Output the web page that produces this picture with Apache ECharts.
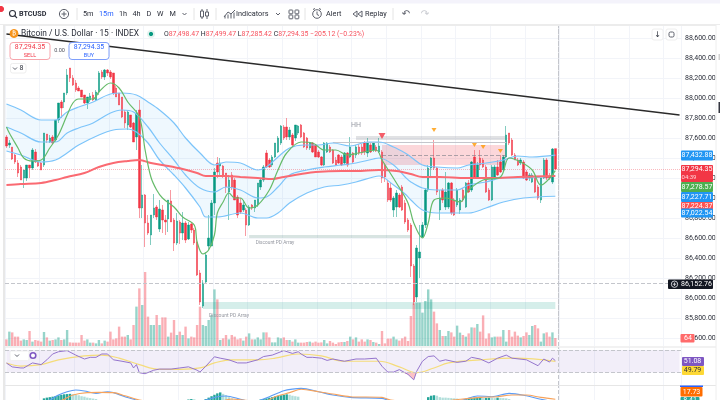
<![CDATA[<!DOCTYPE html>
<html><head><meta charset="utf-8">
<style>html,body{margin:0;padding:0;background:#fff}#c{width:720px;height:400px}</style>
<script src="https://cdn.jsdelivr.net/npm/echarts@6/dist/echarts.min.js"></script>
</head><body><div id="c"></div>
<script>
const barSlots = 234;
const categories = Array.from({length: barSlots}, (_, i) => String(i));

const openPrices = [87615,87535,87515,87435,87355,87315,87205,87205,87335,87305,
87465,87375,87355,87335,87645,87565,87615,87585,87785,87965,
87965,88055,88305,88205,88155,88105,88085,88035,87955,87985,
88035,87985,88065,88265,88215,88285,88265,88255,88105,88055,
88015,87865,87735,87835,87755,87615,87885,86905,87035,86755,
86635,86835,86915,86695,86885,86785,86795,86975,86785,86555,
86765,86655,86755,86595,86745,86685,86565,86255,85925,86165,
86525,86525,86955,87355,87325,87325,87255,87065,87235,87185,
87015,86955,86885,86885,86735,86935,86905,86935,87115,87185,87455,
87385,87335,87415,87465,87555,87715,87715,87615,87635,87605,
87655,87735,87655,87605,87505,87555,87535,87465,87415,87335,
87465,87515,87485,87385,87435,87415,87355,87455,87415,87455,
87435,87515,87515,87555,87455,87535,87485,87515,87465,87465,
87335,87155,87105,86885,86915,87035,87115,86955,86785,86735,
86325,86015,86405,86615,86735,87085,87305,87405,87305,86885,
87085,86915,86915,87155,86985,86935,86885,87085,86915,87155,
87085,87415,87215,87405,87385,87315,87085,86985,87215,87315,
87365,87285,87415,87655,87585,87435,87385,87355,87365,87265,
87205,87165,87205,87115,86985,87205,87385,87215,87165,87498.47];

const closePrices = [87525,87555,87395,87365,87255,87185,87285,87335,87305,87485,
87365,87325,87285,87655,87585,87605,87555,87785,87955,87905,
88055,88235,88205,88135,88085,88075,88015,87955,88015,88025,
87985,88065,88255,88215,88285,88255,88215,88055,88015,87935,
87815,87755,87865,87715,87565,87855,86905,87035,86755,86655,
86835,86905,86815,86895,86785,86765,86985,86765,86555,86775,
86655,86755,86585,86735,86685,86555,86235,85965,86155,86435,
86605,86955,87265,87265,87355,87235,87115,87185,87115,86985,
86835,86865,86935,86735,86915,86905,86985,87155,87185,87315,87315,
87315,87415,87555,87605,87725,87605,87615,87685,87535,87735,
87725,87615,87515,87505,87555,87465,87415,87415,87335,87555,
87555,87465,87355,87335,87355,87335,87455,87335,87515,87365,
87515,87455,87455,87465,87555,87465,87555,87475,87525,87205,
87215,86985,86985,87005,87055,86915,86885,86765,86685,86325,
85965,86505,86465,86735,87085,87305,87405,87305,87065,87005,
86985,87065,87155,86855,86835,87085,86985,86985,87155,87065,
87365,87215,87335,87335,87315,87065,86985,87315,87315,87235,
87265,87415,87635,87555,87435,87385,87335,87385,87205,87185,
87235,87235,87065,87005,87205,87385,87205,87205,87495,87294.35];

const lowPrices = [87505,87505,87385,87345,87215,87185,87105,87175,87205,87285,
87355,87315,87285,87315,87555,87555,87545,87565,87755,87805,
87905,88035,88165,88125,88065,88075,88015,87945,87895,87965,
87975,87975,88035,88195,88185,88225,88195,88035,88015,87935,
87805,87705,87685,87705,87565,87485,86805,86805,86515,86635,
86535,86805,86785,86665,86655,86635,86665,86765,86475,86535,
86545,86585,86555,86585,86655,86535,86225,85935,85905,86155,
86485,86525,86835,87205,87235,87205,87055,86785,87085,86985,
86805,86845,86865,86625,86725,86885,86865,86915,87085,87165,87305,
87305,87315,87405,87455,87535,87585,87585,87585,87515,87575,
87635,87605,87505,87485,87485,87455,87415,87405,87325,87325,
87455,87455,87345,87325,87345,87325,87335,87315,87405,87355,
87405,87435,87435,87435,87415,87455,87465,87465,87455,87155,
87165,86965,86965,86815,86815,86905,86875,86745,86665,86215,
85935,85965,86205,86605,86705,87065,87205,87285,87035,86785,
86955,86885,86895,86835,86825,86915,86845,86965,86905,87055,
87065,87205,87205,87285,87305,87055,86975,86975,87205,87225,
87255,87265,87405,87535,87425,87385,87325,87335,87195,87175,
87175,87155,87055,86985,86955,87195,87185,87185,87145,87285.42];

const highPrices = [87635,87585,87515,87445,87385,87335,87285,87335,87335,87505,
87495,87385,87365,87655,87645,87635,87635,87785,87955,87985,
88055,88295,88305,88235,88185,88125,88085,88035,88015,88055,
88065,88085,88275,88285,88295,88295,88285,88255,88125,88055,
88015,87885,87885,87835,87765,87885,87985,87335,87045,86835,
86835,87045,86935,86985,86935,86835,86985,87085,86805,86855,
86785,86865,86775,86765,86765,86705,86585,86285,86185,86465,
86835,86985,87305,87415,87405,87335,87255,87235,87265,87205,
87035,87005,86985,86905,86935,86945,86985,87155,87205,87335,87485,
87405,87435,87555,87625,87735,87735,87805,87715,87655,87735,
87735,87745,87665,87615,87565,87565,87545,87485,87425,87565,
87565,87535,87495,87415,87445,87435,87465,87465,87615,87465,
87535,87545,87545,87575,87605,87555,87565,87535,87605,87485,
87355,87185,87155,87025,87085,87055,87135,86985,86805,86755,
86345,86535,86735,86765,87105,87335,87415,87585,87315,87085,
87105,87265,87165,87165,87005,87105,87005,87105,87165,87185,
87375,87485,87365,87485,87405,87335,87105,87335,87335,87385,
87435,87435,87725,87655,87605,87455,87405,87405,87385,87285,
87255,87255,87225,87135,87205,87405,87405,87255,87505,87499.47];

const volumes = [53,115,109,75,75,43,53,48,120,35,48,43,35,112,69,43,48,53,69,48,
53,128,29,27,27,27,88,43,53,27,27,21,48,21,43,35,115,53,61,155,
75,75,88,53,168,315,461,328,592,235,168,168,248,168,229,229,75,107,208,88,
115,88,155,61,75,69,168,315,168,160,208,248,453,373,48,61,88,53,88,75,
53,61,43,75,101,53,53,69,53,109,109,69,29,29,69,61,69,48,48,35,
53,27,27,27,32,35,27,35,27,29,48,21,40,27,16,29,32,32,40,75,
53,69,35,53,35,53,48,32,27,16,120,21,59,59,75,53,43,61,75,40,
240,341,347,347,267,360,453,373,275,181,128,80,80,120,109,75,163,107,88,75,
101,149,147,176,115,245,59,101,69,75,75,75,128,35,128,75,115,83,69,80,
109,88,160,168,141,35,101,109,75,109,64];

const bandUpper = [[0,87945],[5,87885],[12,87785],[17,87785],[21,87865],[25,87915],[30,87965],[36,88045],[40,88055],[45,88035],[49,87965],[53,87885],[58,87755],[62,87605],[67,87455],[72,87335],[76,87365],[81,87355],[87,87285],[90,87315],[94,87415],[98,87505],[103,87535],[108,87535],[113,87555],[119,87525],[125,87565],[129,87565],[134,87515],[138,87455],[140,87415],[144,87335],[149,87315],[156,87305],[160,87335],[166,87355],[172,87385],[177,87425],[182,87415],[190,87432.88]];
const bandMiddle = [[0,87715],[5,87655],[12,87565],[17,87565],[21,87655],[25,87705],[30,87755],[36,87855],[40,87885],[44,87865],[49,87715],[53,87555],[58,87385],[62,87235],[67,87105],[72,87065],[76,87115],[81,87085],[87,87005],[90,87015],[94,87115],[98,87235],[104,87285],[110,87315],[116,87335],[121,87355],[127,87395],[129,87405],[134,87335],[138,87215],[140,87165],[144,87105],[149,87085],[156,87085],[160,87135],[166,87165],[172,87205],[179,87205],[190,87227.71]];
const bandLower = [[0,87475],[5,87435],[12,87365],[17,87385],[21,87455],[25,87535],[32,87635],[37,87685],[42,87695],[45,87665],[49,87555],[53,87385],[58,87235],[62,87105],[67,86915],[69,86815],[73,86815],[81,86855],[87,86805],[90,86805],[94,86855],[98,86955],[104,87055],[110,87115],[116,87135],[121,87165],[127,87215],[129,87225],[134,87135],[138,87045],[140,86985],[144,86885],[149,86855],[156,86855],[160,86855],[166,86905],[172,86965],[179,87005],[190,87022.54]];
const emaRed = [[0,87135],[5,87145],[12,87155],[17,87185],[21,87215],[27,87255],[32,87315],[37,87355],[42,87375],[46,87385],[50,87355],[56,87325],[61,87295],[66,87255],[69,87225],[76,87225],[81,87215],[87,87205],[92,87195],[96,87215],[102,87245],[107,87265],[116,87275],[121,87275],[129,87285],[135,87275],[140,87245],[144,87215],[150,87215],[159,87205],[168,87205],[177,87215],[190,87224.37]];
const maGreen = [[0,87715],[1,87655],[4,87505],[6,87405],[9,87375],[12,87385],[15,87505],[18,87635],[21,87835],[23,87955],[25,87995],[30,87995],[32,88065],[36,88155],[39,88105],[42,87965],[46,87815],[48,87485],[50,87215],[52,87085],[54,87005],[58,86915],[61,86815],[65,86735],[66,86565],[68,86445],[70,86485],[72,86635],[73,86855],[75,86965],[77,87055],[79,87005],[81,87005],[84,86905],[87,86935],[91,87085],[94,87285],[97,87455],[102,87565],[106,87555],[110,87485],[114,87485],[118,87435],[122,87455],[128,87485],[130,87385],[135,87155],[139,86955],[141,86755],[144,86605],[146,86755],[148,86985],[152,87005],[157,86965],[160,87085],[165,87185],[171,87215],[174,87405],[178,87365],[182,87285],[185,87135],[190,87278.57]];
const trendLine = [[0,88645],[233,87835]];

const rsiLine = [[0,46.8],[2,39.9],[5,38],[6,38],[9,47],[12,44],[14,52.6],[16,63],[18,67],[21,69],[24,61],[27,54],[29,57],[31,57],[33,63],[35,63],[37,52.6],[40,50],[43,47],[44,38],[45,44],[46,29.4],[48,27.7],[51,34],[53,36],[57,36],[60,38],[63,40],[66,34],[67,30.6],[69,41],[72,58],[74,55.5],[77,52.6],[80,47],[83,47],[87,52.6],[89,58.4],[92,61],[96,69],[99,64],[101,67],[102,63],[104,57],[106,57],[109,55.5],[111,51.5],[113,54],[117,50],[121,54],[124,54],[128,55.5],[130,41],[132,30.6],[134,30.6],[136,35],[139,26.5],[141,16.7],[142,32],[144,50],[146,58.4],[148,59.6],[150,50],[152,52.6],[156,48],[159,50],[161,57],[164,54],[167,47],[170,55.5],[173,61],[175,55.5],[180,52.6],[184,42],[186,54],[188,48.5],[189,55.5],[190,51.08]];
const rsiAverage = [[0,46.8],[5,41.4],[12,44],[18,52.6],[27,59.6],[33,61],[39,55.5],[46,44],[53,35.5],[60,35.5],[67,38],[72,47],[78,52.6],[87,52.6],[93,55.5],[101,63],[109,59.6],[117,50],[129,50],[136,40],[142,29.4],[148,38],[153,47],[164,52.6],[176,55.5],[190,49.79]];
const rsiOversold = [[137,30],[139,26.5],[141,16.7],[142,30]];
const macdLine = [[12,10],[15,18],[18,39],[21,53],[24,60],[27,56],[31,46],[35,53],[37,49],[41,32],[45,18],[48,8],[60,0],[64,5],[69,18],[73,32],[76,35],[81,21],[84,12],[86,10],[88,18],[91,32],[96,57],[99,64],[102,67],[108,53],[113,39],[119,29],[130,25],[132,18],[136,5],[142,-10],[158,18],[163,35],[168,32],[174,46],[180,36],[185,21],[190,10]];
const macdSignal = [[18,12],[20,21],[23,39],[28,49],[32,50],[37,49],[41,36],[46,18],[55,5],[70,0],[76,18],[78,22],[82,18],[87,12],[90,14],[93,32],[98,49],[102,63],[108,53],[113,43],[119,32],[130,29],[133,18],[145,5],[157,21],[164,29],[170,32],[175,39],[180,39],[185,29],[190,21]];
const macdRising = [[13,25],[14,28],[15,30],[16,32],[17,35],[18,38],[19,40],[20,42],[21,43],[22,44],[63,20],[64,22],[69,22],[70,28],[71,34],[72,40],[73,46],[74,50],[88,20],[89,22],[90,25],[91,28],[92,30],[93,33],[94,36],[95,38],[96,40],[97,42],[146,30],[147,36],[148,38],[159,22],[160,24],[161,26],[162,28],[163,28],[164,30],[166,27],[167,28],[170,28]];
const macdFalling = [[23,42],[24,40],[25,38],[26,34],[27,32],[28,28],[29,26],[30,24],[31,22],[65,21],[75,44],[76,38],[77,30],[78,24],[79,20],[98,40],[99,36],[100,34],[101,32],[149,36],[150,30],[151,28],[152,28],[153,27],[154,26],[155,25],[156,24],[165,26],[168,27],[169,26],[171,27],[172,26],[173,25],[174,22]];
const sellMarkers = [[130,87625]];
const orangeMarkers = [[148,87685],[162,87535],[165,87515],[171,87475]];
const lastPrice = 87294.35;
const supportLevel = 86152.76;
const cursorBar = 191;

const UP = '#089981', DOWN = '#f23645';
const chart = echarts.init(document.getElementById('c'), null, {renderer:'canvas'});
const FONT = 'Roboto, "Liberation Sans", sans-serif';

const candleData = openPrices.map((o, i) => [o, closePrices[i], lowPrices[i], highPrices[i]]);
const volumeData = volumes.map((v, i) => ({value: v, itemStyle: {color: closePrices[i] >= openPrices[i] ? 'rgba(8,153,129,.42)' : 'rgba(242,54,69,.4)'}}));

const gridX = {left: 5, width: 676};
const splitV = {show: true, interval: 11, lineStyle: {color: '#f2f4f9', width: 1}};
function xAxisFor(gridIndex, withSplit) {
  return {type: 'category', data: categories, gridIndex, boundaryGap: true,
    axisLine: {show: false}, axisTick: {show: false}, axisLabel: {show: false},
    splitLine: withSplit ? splitV : {show: false}};
}
const cursorLine = {silent: true, symbol: 'none', animation: false,
  lineStyle: {color: '#c4c6cc', type: 'dashed', width: 1},
  label: {show: false}, data: [{xAxis: cursorBar}]};

function overlay(name, data, color, width) {
  return {name, type: 'line', data, xAxisIndex: 0, yAxisIndex: 0, smooth: 0.35, showSymbol: false,
    symbol: 'none', lineStyle: {color, width}, z: 5, silent: true, animation: false};
}
function box(a, b, c, d, color) { return [{coord: [a, b], itemStyle: {color}}, {coord: [c, d]}]; }

const option = {
  animation: false,
  backgroundColor: '#ffffff',
  textStyle: {fontFamily: FONT},
  grid: [
    {...gridX, top: 18.5, height: 320},
    {...gridX, top: 26, height: 320},
    {...gridX, top: 347, height: 38},
    {...gridX, top: 386, height: 14}
  ],
  xAxis: [xAxisFor(0, false), xAxisFor(1, true), xAxisFor(2, true), xAxisFor(3, true)],
  yAxis: [
    {type: 'value', gridIndex: 0, position: 'right', min: 85600, max: 88800, interval: 200, scale: true,
      axisLine: {show: false}, axisTick: {show: false},
      axisLabel: {fontSize: 7, color: '#2a2e39', margin: 4, fontFamily: FONT,
        formatter: v => v.toLocaleString('en-US', {minimumFractionDigits: 2, maximumFractionDigits: 2})},
      splitLine: {show: true, lineStyle: {color: '#f2f4f9', width: 1}}},
    {type: 'value', gridIndex: 1, min: 0, max: 2560, show: false},
    {type: 'value', gridIndex: 2, min: 7.5, max: 75.5, show: false},
    {type: 'value', gridIndex: 3, min: 18, max: 77, show: false}
  ],
  series: [
    {type: 'bar', name: 'Volume', xAxisIndex: 1, yAxisIndex: 1, data: volumeData, barWidth: 2.4, z: 1, silent: true,
      markLine: cursorLine},
    {type: 'custom', name: 'Band fill', xAxisIndex: 0, yAxisIndex: 0, data: [[0, 0]], z: 1, silent: true, clip: true,
      renderItem(params, api) {
        const pts = bandUpper.concat(bandLower.slice().reverse()).map(p => api.coord(p));
        return {type: 'polygon', shape: {points: pts}, style: {fill: 'rgba(33,150,243,.07)'}};
      }},
    {type: 'candlestick', name: 'BTCUSD', xAxisIndex: 0, yAxisIndex: 0, data: candleData, barWidth: 1.9, z: 3, silent: true,
      itemStyle: {color: UP, color0: DOWN, borderColor: 'rgba(8,153,129,.5)', borderColor0: 'rgba(242,54,69,.5)', borderWidth: 1},
      markArea: {silent: true, data: [
        box(130, 87535, 173, 87335, 'rgba(242,54,69,.2)'),
        box(121, 87625, 173, 87585, 'rgba(120,123,134,.22)'),
        box(68, 85965, 190, 85895, 'rgba(8,153,129,.17)'),
        box(84, 86635, 140, 86605, 'rgba(60,120,110,.2)')
      ]},
      markLine: {silent: true, symbol: 'none', label: {show: false}, data: [
        {yAxis: lastPrice, lineStyle: {color: 'rgba(242,54,69,.35)', type: 'dotted', width: 1}},
        {yAxis: supportLevel, lineStyle: {color: '#c4c6cc', type: 'dashed', width: 1}},
        {xAxis: cursorBar, lineStyle: {color: '#c4c6cc', type: 'dashed', width: 1}},
        [{coord: [113, 87565], lineStyle: {color: '#c4c6cc', type: 'solid', width: 1}}, {coord: [173, 87565]}],
        [{coord: [130, 87435], lineStyle: {color: 'rgba(120,123,134,.6)', type: 'dashed', width: 1}}, {coord: [173, 87435]}]
      ]}},
    overlay('Upper', bandUpper, '#7cc4fa', 1.2),
    overlay('Basis', bandMiddle, '#7cc4fa', 1.2),
    overlay('Lower', bandLower, '#7cc4fa', 1.2),
    overlay('EMA', emaRed, '#fa6a72', 2),
    overlay('MA', maGreen, '#66bb6a', 1.2),
    overlay('Trend', trendLine, '#2a2a2a', 1.4),
    {type: 'scatter', name: 'Sell marker', xAxisIndex: 0, yAxisIndex: 0, data: sellMarkers, symbol: 'triangle', symbolRotate: 180, symbolSize: [7, 6], z: 6, silent: true, itemStyle: {color: '#f23645'}},
    {type: 'scatter', name: 'Swing marker', xAxisIndex: 0, yAxisIndex: 0, data: orangeMarkers, symbol: 'triangle', symbolRotate: 180, symbolSize: [5, 4], z: 6, silent: true, itemStyle: {color: '#ff9800'}},
    {type: 'custom', name: 'RSI oversold', xAxisIndex: 2, yAxisIndex: 2, data: [[0, 0]], z: 2, silent: true, clip: true,
      renderItem(params, api) {
        return {type: 'polygon', shape: {points: rsiOversold.map(p => api.coord(p))}, style: {fill: 'rgba(242,54,69,.3)'}};
      }},
    {type: 'line', name: 'RSI', xAxisIndex: 2, yAxisIndex: 2, data: rsiLine, showSymbol: false, symbol: 'none', lineStyle: {color: '#9575cd', width: 1}, z: 4, silent: true,
      markArea: {silent: true, itemStyle: {color: 'rgba(126,87,194,.1)'}, data: [[{coord: [0, 70]}, {coord: [233, 30]}]]},
      markLine: {silent: true, symbol: 'none', label: {show: false}, lineStyle: {color: '#c4c6cc', type: 'dashed', width: 1},
        data: [{yAxis: 70}, {yAxis: 30}, {xAxis: cursorBar}]}},
    {type: 'line', name: 'RSI MA', xAxisIndex: 2, yAxisIndex: 2, data: rsiAverage, smooth: 0.4, showSymbol: false, symbol: 'none', lineStyle: {color: '#f5dc7a', width: 1.2}, z: 3, silent: true},
    {type: 'bar', name: 'Hist up', xAxisIndex: 3, yAxisIndex: 3, data: macdRising, barWidth: 2.4, barGap: '-100%', itemStyle: {color: '#26a69a'}, z: 1, silent: true, markLine: cursorLine},
    {type: 'bar', name: 'Hist down', xAxisIndex: 3, yAxisIndex: 3, data: macdFalling, barWidth: 2.4, barGap: '-100%', itemStyle: {color: '#b2dfdb'}, z: 1, silent: true},
    {type: 'line', name: 'MACD', xAxisIndex: 3, yAxisIndex: 3, data: macdLine, smooth: 0.3, showSymbol: false, symbol: 'none', lineStyle: {color: '#5b9cf6', width: 1.1}, z: 3, silent: true},
    {type: 'line', name: 'Signal', xAxisIndex: 3, yAxisIndex: 3, data: macdSignal, smooth: 0.3, showSymbol: false, symbol: 'none', lineStyle: {color: '#f7a35c', width: 1.1}, z: 3, silent: true}
  ],
  graphic: {elements: buildChrome()}
};

function buildChrome() {
  const Z = 50, g = [];
  const ink = '#2a2e39', grey = '#5d606b';
  const txt = (x, y, text, o = {}) => g.push({type: 'text', x, y, z: Z + 2, silent: true, style: {
    text, fontFamily: o.family || FONT, fontSize: o.size || 7.3, fontWeight: o.weight || 'normal',
    fill: o.fill || ink, align: o.align || 'left', verticalAlign: 'middle', rich: o.rich}});
  const rect = (x, y, w, h, fill, o = {}) => g.push({type: 'rect', z: o.z || Z, silent: true,
    shape: {x, y, width: w, height: h, r: o.r || 0}, style: {fill, stroke: o.stroke, lineWidth: o.lw || 1}});
  const line = (x1, y1, x2, y2, stroke, lw = 1) => g.push({type: 'line', z: Z + 1, silent: true,
    shape: {x1, y1, x2, y2}, style: {stroke, lineWidth: lw}});
  const ring = (cx, cy, r, stroke, fill = 'transparent', lw = 1) => g.push({type: 'circle', z: Z + 1, silent: true,
    shape: {cx, cy, r}, style: {stroke, fill, lineWidth: lw}});

  // frame and toolbar
  rect(0, 0, 720, 25.5, '#ffffff');
  rect(0, 0, 720, 3.5, '#f4f3fb');
  rect(0, 24, 720, 2, '#ececec');
  rect(3, 25, 2, 375, '#e8e8e8');
  rect(0, 25, 3, 375, '#ffffff');
  rect(716, 25, 4, 375, '#ffffff');
  line(716, 25, 716, 400, '#eeeeee');
  rect(718.5, 102, 1.5, 11, '#33353f', {z: Z + 1});
  rect(718.5, 54, 1.5, 6, '#d0d0d0', {z: Z + 1});
  rect(5, 346.5, 711, 1, '#e6e6e6', {z: 40});
  rect(5, 385, 711, 1, '#e6e6e6', {z: 40});
  ring(1, 9, 2.6, '#f23645', '#f23645');

  // toolbar left
  ring(12.5, 13.5, 3, ink, 'transparent', 1.1);
  line(14.7, 15.7, 17, 18, ink, 1.1);
  txt(19, 14, 'BTCUSD', {weight: 'bold', size: 7.2});
  ring(64, 14, 4.6, grey);
  line(61.5, 14, 66.5, 14, grey); line(64, 11.5, 64, 16.5, grey);
  line(77, 8, 77, 20, '#e4e4e4');
  [['5m', 83, ink], ['15m', 99, '#2962ff'], ['1h', 119, ink], ['4h', 132.5, ink], ['D', 146.5, ink], ['W', 157, ink], ['M', 169.5, ink]]
    .forEach(t => txt(t[1], 14, t[0], {fill: t[2]}));
  g.push({type: 'polyline', z: Z + 1, silent: true, shape: {points: [[182.5, 13], [184.5, 15], [186.5, 13]]}, style: {stroke: grey, fill: 'transparent'}});
  line(194, 8, 194, 20, '#e4e4e4');
  line(202, 9, 202, 19, grey); rect(200.5, 11, 3, 6, '#ffffff', {stroke: grey, z: Z + 1});
  line(207, 9, 207, 19, grey); rect(205.5, 12, 3, 4, '#ffffff', {stroke: grey, z: Z + 1});
  line(216, 8, 216, 20, '#e4e4e4');
  g.push({type: 'polyline', z: Z + 1, silent: true, shape: {points: [[224, 17], [228, 12], [231, 14], [235, 10]]}, style: {stroke: grey, fill: 'transparent'}});
  [225, 228, 231, 234].forEach((x, i) => line(x, 18.5, x, 15.5 - i, grey));
  txt(236, 14, 'Indicators');
  g.push({type: 'polyline', z: Z + 1, silent: true, shape: {points: [[276, 13], [278, 15], [280, 13]]}, style: {stroke: grey, fill: 'transparent'}});
  [[289, 10], [295, 10], [289, 15], [295, 15]].forEach(p => rect(p[0], p[1], 3.8, 3.8, '#ffffff', {stroke: grey, z: Z + 1, r: .6}));
  line(305, 8, 305, 20, '#e4e4e4');
  ring(317, 14, 4.3, grey);
  line(317, 11.5, 317, 14.5, grey); line(317, 14.5, 319, 15.5, grey);
  line(313, 9.5, 315, 8.5, grey); line(319, 8.5, 321, 9.5, grey);
  txt(326, 14, 'Alert');
  g.push({type: 'polygon', z: Z + 1, silent: true, shape: {points: [[353, 14], [357, 11], [357, 17]]}, style: {stroke: grey, fill: 'transparent'}});
  g.push({type: 'polygon', z: Z + 1, silent: true, shape: {points: [[358, 14], [362, 11], [362, 17]]}, style: {stroke: grey, fill: 'transparent'}});
  txt(365, 14, 'Replay');
  line(393, 8, 393, 20, '#e4e4e4');
  txt(406, 14, '↶', {size: 10, align: 'center', fill: grey, family: 'DejaVu Sans'});
  txt(425, 14, '↷', {size: 10, align: 'center', fill: '#c9cbd1', family: 'DejaVu Sans'});

  // legend row
  ring(14, 33.5, 4, '#f7931a', '#f7931a');
  txt(14, 33.7, '₿', {size: 6, fill: '#fff', align: 'center', family: 'DejaVu Sans'});
  txt(21, 34, 'Bitcoin / U.S. Dollar · 15 · INDEX', {size: 8.4});
  ring(151, 34, 3.6, '#e3f3ef', '#e3f3ef');
  ring(151, 34, 1.7, '#089981', '#089981');
  const r = '#f7525f';
  txt(164, 34, '{k|O}{v|87,498.47} {k|H}{v|87,499.47} {k|L}{v|87,285.42} {k|C}{v|87,294.35} {v|−205.12 (−0.23%)}', {
    rich: {k: {fill: ink, fontSize: 6.9, fontFamily: FONT}, v: {fill: r, fontSize: 6.9, fontFamily: FONT}}});

  // sell / buy
  rect(10, 42.5, 40, 17, '#ffffff', {stroke: '#f7a5ac', r: 3, z: Z + 1});
  txt(30, 47.5, '87,294.35', {size: 6.9, fill: '#f23645', align: 'center'});
  txt(30, 55.5, 'SELL', {size: 5.5, fill: '#f23645', align: 'center'});
  txt(59.5, 51, '0.00', {size: 5.5, fill: '#50535e', align: 'center'});
  rect(69, 42.5, 40, 17, '#ffffff', {stroke: '#7f9ffb', r: 3, z: Z + 1});
  txt(89, 47.5, '87,294.35', {size: 6.9, fill: '#2962ff', align: 'center'});
  txt(89, 55.5, 'BUY', {size: 5.5, fill: '#2962ff', align: 'center'});
  rect(10.5, 63.5, 15.5, 9.5, '#ffffff', {stroke: '#eeeeee', r: 2});
  g.push({type: 'polyline', z: Z + 1, silent: true, shape: {points: [[13, 67.5], [15, 69.5], [17, 67.5]]}, style: {stroke: grey, fill: 'transparent'}});
  txt(19.5, 68.5, '8', {size: 7});

  // chart annotations
  txt(356, 125.5, 'HH', {size: 7, fill: '#9598a1', align: 'center'});
  txt(275, 243, 'Discount PD Array', {size: 4.8, fill: '#9598a1', align: 'center'});
  txt(229, 316, 'Discount PD Array', {size: 5, fill: '#9598a1', align: 'center'});

  // chart buttons
  rect(652, 29, 11, 11, '#ffffff', {stroke: '#eeeeee', r: 2});
  txt(657.5, 34.5, '↓', {size: 8, align: 'center', family: 'DejaVu Sans'});
  rect(666, 29, 11, 11, '#ffffff', {stroke: '#eeeeee', r: 2});
  rect(669, 32, 5, 5, '#ffffff', {stroke: grey, r: 1.5, z: Z + 1});

  // price tags
  const tag = (y, h, fill, text, o = {}) => {
    rect(o.x || 681, y, o.w || 32, h, fill, {z: Z + 1, r: 1});
    txt(o.tx || 697, y + h / 2 + .2, text, {size: o.size || 7, fill: o.fill || '#fff', align: 'center'});
  };
  tag(150.5, 10, '#2196f3', '87,432.88');
  rect(681, 165, 32, 17, '#f23645', {z: Z + 1, r: 1});
  txt(697, 169.5, '87,294.35', {size: 7, fill: '#fff', align: 'center'});
  txt(689, 177.5, '04:39', {size: 6, fill: '#ffd5d8', align: 'center'});
  tag(182, 10, '#4caf50', '87,278.57');
  tag(192, 10, '#2196f3', '87,227.71');
  tag(202, 8.5, '#ff5252', '87,224.37');
  tag(208.5, 9, '#2196f3', '87,022.54');
  rect(668, 279.5, 45, 9.5, '#131722', {z: Z + 1, r: 1});
  ring(674.5, 284.2, 3.2, '#c8cad0');
  line(672.8, 284.2, 676.2, 284.2, '#c8cad0'); line(674.5, 282.5, 674.5, 285.9, '#c8cad0');
  txt(696.5, 284.5, '86,152.76', {size: 7, fill: '#fff', align: 'center'});
  tag(334, 8.5, '#ff6b6b', '64', {w: 14, tx: 688, x: 680.5, size: 7});
  tag(357, 9, '#7e57c2', '51.08', {w: 22, tx: 692.5, x: 682});
  tag(366, 9, '#fdd835', '49.79', {w: 22, tx: 692.5, x: 682, fill: '#2a2e39'});
  rect(680, 385.5, 23, 1.5, '#2962ff', {z: Z + 1});
  tag(387, 9.5, '#ff6d00', '17.73', {w: 22, tx: 691.5, x: 680.5});
  tag(397, 6, '#26a69a', '8.41', {w: 19, tx: 690, x: 680.5});

  // pane icons
  rect(10, 351, 19, 9.5, '#ffffff', {stroke: '#f0f0f0', r: 1.5, z: Z + 1});
  g.push({type: 'polyline', z: Z + 2, silent: true, shape: {points: [[15, 354.5], [17, 356.5], [19, 354.5]]}, style: {stroke: grey, fill: 'transparent'}});
  ring(33, 355.5, 2.8, '#7e57c2', '#ffffff', 1.6);
  return g;
}
chart.setOption(option);
</script></body></html>]]>
